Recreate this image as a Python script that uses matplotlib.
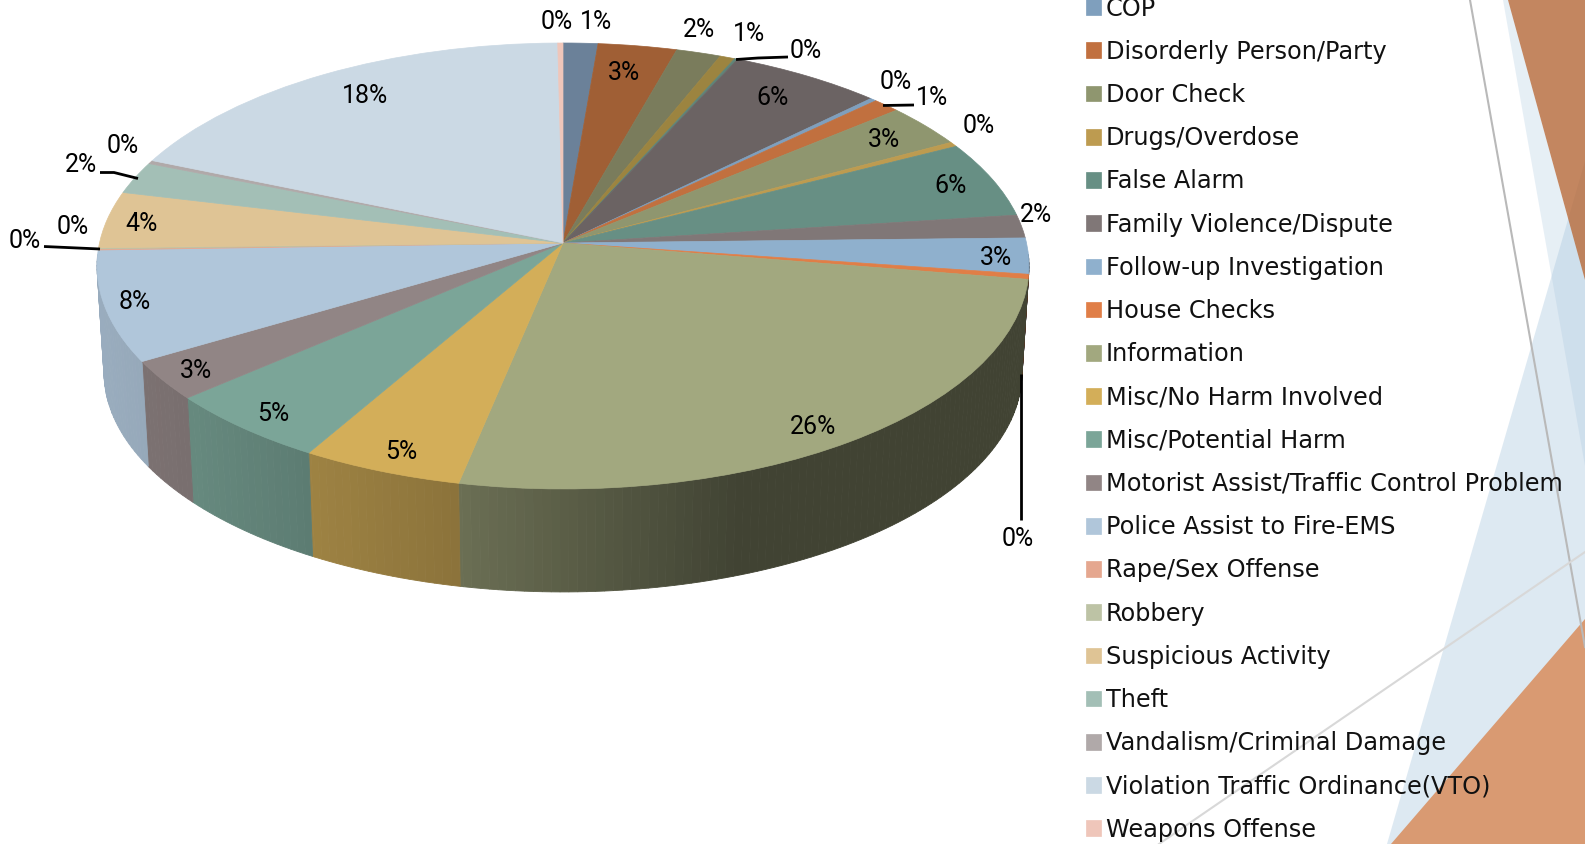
import numpy as np
import matplotlib
matplotlib.use("Agg")
import matplotlib.pyplot as plt
from matplotlib.transforms import Transform
from matplotlib.colors import to_rgb

W, H = 1585, 844

# ---------- data ----------
shares = [1.33, 3.02, 1.71, 0.58, 0.12, 5.85, 0.25, 1.05, 3.15, 0.35, 5.54, 1.68, 2.60,
          0.36, 25.65, 5.08, 5.31, 2.86, 8.00, 0.08, 0.08, 4.11, 2.33, 0.25, 18.45, 0.20]
slice_colors = ["#6b8199", "#a05f35", "#7a7c5c", "#9c8440", "#5f8478", "#6b6363", "#7f9fbd",
                "#c1703f", "#8f966f", "#bd9b50", "#678f84", "#807777", "#8fb0cd", "#e07e47",
                "#a2a87f", "#d3ae59", "#7ba598", "#918585", "#b0c6da", "#e5a78f", "#bdc3a5",
                "#dfc495", "#a3bfb6", "#b0a9a9", "#cbd9e4", "#efc6ba"]
# the legend shows only the last 20 categories; the first 6 run off the top of the picture
legend_names = ["COP", "Disorderly Person/Party", "Door Check", "Drugs/Overdose", "False Alarm",
                "Family Violence/Dispute", "Follow-up Investigation", "House Checks", "Information",
                "Misc/No Harm Involved", "Misc/Potential Harm",
                "Motorist Assist/Traffic Control Problem", "Police Assist to Fire-EMS",
                "Rape/Sex Offense", "Robbery", "Suspicious Activity", "Theft",
                "Vandalism/Criminal Damage", "Violation Traffic Ordinance(VTO)", "Weapons Offense"]

# ---------- layout (pixels) ----------
label_xy = [(596, 22), (624, 73), (699, 30), (749, 34), (806, 51), (773, 98), (896, 82), (932, 98),
            (884, 140), (979, 126), (951, 186), (1036, 215), (996, 258), (1018, 539), (813, 427),
            (401, 452), (273, 414), (196, 371), (135, 302), (25, 241), (73, 227), (142, 224),
            (81, 165), (123, 146), (365, 96), (557, 22)]
leaders = [([736, 758, 788], [59.5, 58, 57]), ([883, 914], [105.5, 105]),
           ([1021, 1021], [374, 520]), ([100, 114, 138], [172.5, 172.5, 178.5]),
           ([44, 100], [246.5, 249])]
CX, CY, A, B, K = 563.0, 243.0, 463.5, 220.6, 0.103      # perspective of the pie disc
DROP, SHRINK = 106.7, 0.985                               # lower rim of the side wall


def project(xy):
    xy = np.asarray(xy, float)
    w = 1 + K * xy[..., 1]
    return np.stack([CX + A * xy[..., 0] / w, CY - B * xy[..., 1] / w], axis=-1)


class Perspective(Transform):
    input_dims = output_dims = 2
    is_separable = False
    has_inverse = False

    def transform_non_affine(self, values):
        return project(values)


fig = plt.figure(figsize=(W / 100, H / 100), dpi=100, facecolor="white")
ax = fig.add_axes([0, 0, 1, 1])

wedges, _ = ax.pie(shares, colors=slice_colors, startangle=90, counterclock=False,
                   wedgeprops=dict(linewidth=0.5, zorder=3))
ax.set_aspect("auto")
ax.set_xlim(0, W)
ax.set_ylim(H, 0)
ax.axis("off")
persp = Perspective() + ax.transData
for w, c in zip(wedges, slice_colors):
    w.set_transform(persp)
    w.set_edgecolor(c)

# ---------- slide decoration behind the chart ----------
ax.fill([1503, 1508.3, 1585, 1585], [0, 0, 280, 466], color="#a8c6de", alpha=0.28, lw=0, zorder=0)
ax.fill([1387, 1585, 1585], [844, 161, 844], color="#a8c6de", alpha=0.38, lw=0, zorder=0.05)
ax.fill([1508.3, 1585, 1585], [0, 0, 280], color="#b56838", alpha=0.8, lw=0, zorder=0.1)
ax.fill([1391, 1585, 1585], [844, 619, 844], color="#d99a72", lw=0, zorder=0.3)
ax.plot([1470, 1585], [0, 647], color="#b9b9b9", lw=1.5, zorder=0.4)
ax.plot([1159, 1585], [844, 552], color="#d8d8d8", lw=1.5, zorder=0.4)

# ---------- side wall, shaded left to right ----------
edges = np.concatenate([[0], np.cumsum(shares)]) / np.sum(shares) * 360
STEP = 1.0
for i, c in enumerate(slice_colors):
    t0, t1 = max(edges[i], 93.0), min(edges[i + 1], 267.0)
    if t1 <= t0:
        continue
    ts = np.arange(t0, t1, STEP)
    ts = np.append(ts, t1)
    rgb = np.array(to_rgb(c))
    for a0, a1 in zip(ts[:-1], ts[1:]):
        th = np.radians(np.linspace(a0, a1, 3))
        top = project(np.column_stack([np.sin(th), np.cos(th)]))
        bot = np.column_stack([CX + SHRINK * (top[:, 0] - CX),
                               CY + DROP + SHRINK * (top[:, 1] - CY)])
        shade = np.interp(top[:, 0].mean(), [101, 192, 308, 458, 738, 1030],
                          [0.87, 0.83, 0.75, 0.66, 0.40, 0.40])
        col = tuple(rgb * shade)
        ax.fill(np.r_[top[:, 0], bot[::-1, 0]], np.r_[top[:, 1], bot[::-1, 1]],
                facecolor=col, edgecolor=col, lw=0.6, zorder=1)

# ---------- percentage labels ----------
for v, (x, y) in zip(shares, label_xy):
    ax.text(x, y, f"{v:.0f}%", ha="center", va="center", fontsize=18,
            family="Roboto", color="black", zorder=6)
for xs, ys in leaders:
    ax.plot(xs, ys, color="black", lw=2, zorder=5, solid_capstyle="butt")

# ---------- legend ----------
ax.legend(wedges[6:], legend_names, loc="upper left", bbox_to_anchor=(1086, -3.5),
          bbox_transform=ax.transData, frameon=False, borderpad=0, borderaxespad=0,
          handlelength=0.625, handleheight=0.625, handletextpad=0.2, labelspacing=0.80,
          labelcolor="#111111", prop=dict(family="DejaVu Sans", size=17.3))

fig.savefig("out.png", dpi=100, facecolor="white")
